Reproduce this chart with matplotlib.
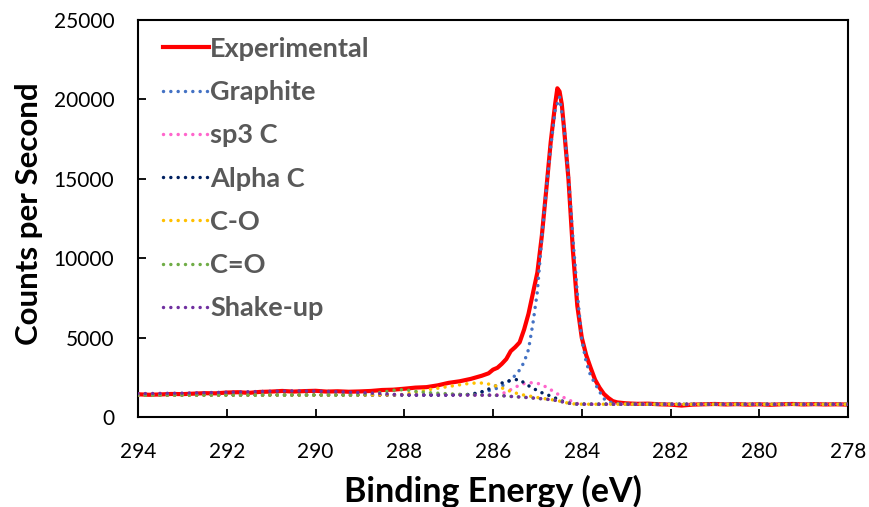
import matplotlib
matplotlib.use("Agg")
import matplotlib.pyplot as plt

# ---------------- data ----------------
E_exp = [294, 293.75, 293.5, 293.25, 293, 292.75, 292.5, 292.25, 292, 291.75, 291.5, 291.25,
         291, 290.75, 290.5, 290.25, 290, 289.75, 289.5, 289.25, 289, 288.75, 288.5, 288.25,
         288, 287.75, 287.5, 287.25, 287, 286.75, 286.5, 286.25, 286.1, 286.0, 285.9, 285.8,
         285.7, 285.6, 285.5, 285.4, 285.3, 285.2, 285.1, 285.0, 284.9, 284.8, 284.7, 284.6,
         284.55, 284.5, 284.45, 284.4, 284.3, 284.2, 284.1, 284.0, 283.9, 283.8, 283.7, 283.6,
         283.5, 283.4, 283.3, 283.2, 283.0, 282.75, 282.5, 282.25, 282, 281.75, 281.5, 281.25,
         281, 280.75, 280.5, 280.25, 280, 279.75, 279.5, 279.25, 279, 278.75, 278.5, 278.25, 278]
experimental = [1430, 1400, 1420, 1450, 1440, 1470, 1500, 1490, 1540, 1560, 1520, 1580,
                1600, 1640, 1600, 1630, 1650, 1600, 1620, 1590, 1610, 1640, 1700, 1720,
                1780, 1850, 1880, 1990, 2150, 2250, 2400, 2600, 2750, 2980, 3100, 3350,
                3650, 4150, 4400, 4700, 5500, 6500, 7800, 9100, 11400, 14300, 17300, 19700,
                20700, 20500, 19700, 18200, 15000, 10500, 7000, 5000, 3900, 3100, 2350, 1850,
                1450, 1200, 1000, 920, 860, 830, 840, 800, 780, 720, 780, 800,
                820, 790, 810, 780, 800, 770, 800, 820, 790, 810, 790, 800, 780]

E_comp = [294, 293, 292, 291, 290.5, 290, 289.5, 289, 288.5, 288.2,
          288, 287.7, 287.5, 287, 286.5, 286.2, 286.0, 285.9, 285.8, 285.7,
          285.6, 285.5, 285.4, 285.3, 285.2, 285.1, 285.0, 284.9, 284.8, 284.7,
          284.6, 284.5, 284.4, 284.3, 284.2, 284.1, 284.0, 283.9, 283.8, 283.7,
          283.6, 283.5, 283.4, 283.3, 283.2, 283.0, 282.5, 282, 281, 280,
          279, 278]

graphite = [1385, 1385, 1385, 1385, 1385, 1385, 1385, 1385, 1385, 1385,
            1385, 1385, 1385, 1390, 1420, 1590, 1720, 1820, 1950, 2120,
            2350, 2620, 2960, 3450, 4250, 5900, 7900, 11300, 14300, 17000,
            19300, 20150, 18300, 15200, 11300, 7800, 4900, 3450, 2600, 2100,
            1600, 1150, 980, 890, 845, 815, 810, 810, 805, 805,
            805, 805]

sp3_c = [1385, 1385, 1385, 1385, 1385, 1385, 1385, 1385, 1385, 1385,
         1385, 1385, 1385, 1385, 1380, 1375, 1372, 1400, 1460, 1580,
         1720, 1870, 2010, 2100, 2150, 2160, 2120, 2040, 1880, 1720,
         1540, 1380, 1220, 1080, 960, 850, 815, 808, 805, 805,
         805, 805, 805, 805, 805, 805, 805, 805, 800, 800,
         800, 800]

alpha_c = [1385, 1385, 1385, 1385, 1385, 1385, 1385, 1385, 1385, 1385,
           1385, 1385, 1385, 1385, 1420, 1630, 1880, 2010, 2140, 2240,
           2300, 2350, 2360, 2150, 1970, 1820, 1660, 1530, 1420, 1320,
           1200, 1080, 960, 880, 835, 815, 810, 805, 805, 805,
           805, 805, 805, 805, 805, 805, 805, 805, 800, 800,
           800, 800]

c_o = [1385, 1385, 1385, 1385, 1385, 1385, 1385, 1385, 1385, 1400,
       1420, 1590, 1700, 1920, 2130, 2140, 2010, 1920, 1830, 1720,
       1610, 1520, 1440, 1380, 1330, 1280, 1230, 1180, 1140, 1100,
       1055, 1000, 930, 870, 830, 815, 810, 805, 805, 805,
       805, 805, 805, 805, 805, 805, 805, 805, 800, 800,
       800, 800]

c_eq_o = [1385, 1385, 1385, 1385, 1385, 1385, 1385, 1390, 1560, 1700,
          1720, 1600, 1540, 1460, 1400, 1378, 1372, 1360, 1345, 1320,
          1295, 1275, 1260, 1240, 1220, 1195, 1170, 1150, 1120, 1090,
          1050, 1000, 930, 870, 830, 815, 810, 805, 805, 805,
          805, 805, 805, 805, 805, 805, 805, 805, 800, 800,
          800, 800]

shake_up = [1470, 1500, 1560, 1620, 1640, 1630, 1590, 1540, 1470, 1420,
            1400, 1390, 1385, 1385, 1380, 1375, 1370, 1360, 1345, 1320,
            1295, 1275, 1260, 1240, 1220, 1195, 1170, 1150, 1120, 1090,
            1050, 1000, 930, 870, 830, 815, 810, 805, 805, 805,
            805, 805, 805, 805, 805, 805, 805, 805, 800, 800,
            800, 800]

x_ticks = [294, 292, 290, 288, 286, 284, 282, 280, 278]
y_ticks = [0, 5000, 10000, 15000, 20000, 25000]

components = [
    ("Graphite", graphite, "#4472C4"),
    ("sp3 C", sp3_c, "#FF66CC"),
    ("Alpha C", alpha_c, "#002060"),
    ("C-O", c_o, "#FFC000"),
    ("C=O", c_eq_o, "#70AD47"),
    ("Shake-up", shake_up, "#7030A0"),
]

# ---------------- plot ----------------
plt.rcParams['font.family'] = ['Lato', 'DejaVu Sans']

fig = plt.figure(figsize=(8.70, 5.07), dpi=100)
ax = fig.add_axes([138/870, 1 - 417/507, (848-138)/870, (417-20)/507])

ax.plot(E_exp, experimental, color="#FF0000", lw=3.0, label="Experimental",
        solid_joinstyle='round', zorder=2)
for name, vals, col in components:
    ax.plot(E_comp, vals, color=col, lw=2.5, linestyle=(0, (0.01, 2.1)),
            dash_capstyle='round', label=name, zorder=3)

ax.set_xlim(294, 278)
ax.set_ylim(0, 25000)
ax.set_xticks(x_ticks)
ax.set_yticks(y_ticks)
ax.tick_params(direction='in', length=6, width=1.3, labelsize=15, colors='black')
ax.tick_params(axis='x', pad=18)
ax.tick_params(axis='y', pad=17)
for s in ax.spines.values():
    s.set_linewidth(1.5)
    s.set_color('black')

ax.set_xlabel("Binding Energy (eV)", fontsize=24.5, fontweight='bold', labelpad=9)
ax.set_ylabel("Counts per Second", fontsize=22.5, fontweight='bold')
ax.yaxis.set_label_coords(-0.134, 0.511)

leg = ax.legend(loc='upper left', bbox_to_anchor=(0.008, 1.005), frameon=False,
                fontsize=19.5, handlelength=1.7, handletextpad=0.05, labelspacing=0.71,
                borderaxespad=0.3)
for t in leg.get_texts():
    t.set_color('#595959')
    t.set_fontweight('bold')

fig.savefig("out.png", dpi=100)
